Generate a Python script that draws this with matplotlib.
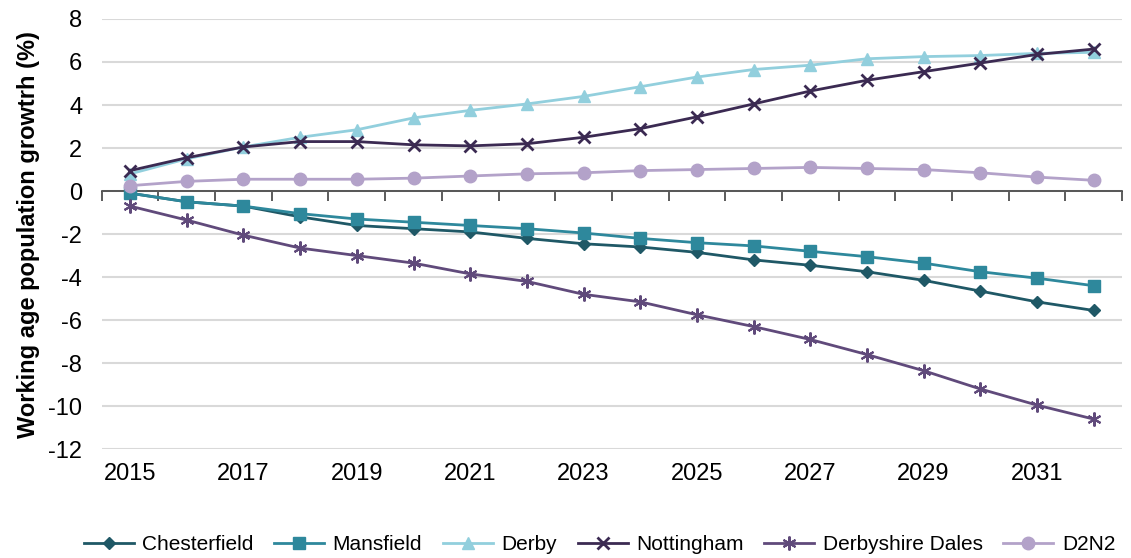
import matplotlib.pyplot as plt
import numpy as np

plt.rcParams['font.family'] = ['Liberation Sans', 'DejaVu Sans']
plt.rcParams['axes.unicode_minus'] = False

years = list(range(2015, 2033))

chesterfield = [-0.1, -0.5, -0.7, -1.2, -1.6, -1.75, -1.9, -2.2, -2.45, -2.6,
                -2.85, -3.2, -3.45, -3.75, -4.15, -4.65, -5.15, -5.55]
mansfield = [-0.1, -0.5, -0.7, -1.05, -1.3, -1.45, -1.6, -1.75, -1.95, -2.2,
             -2.4, -2.55, -2.8, -3.05, -3.35, -3.75, -4.05, -4.4]
derby = [0.8, 1.5, 2.05, 2.5, 2.85, 3.4, 3.75, 4.05, 4.4, 4.85,
         5.3, 5.65, 5.85, 6.15, 6.25, 6.3, 6.4, 6.45]
nottingham = [0.95, 1.55, 2.05, 2.3, 2.3, 2.15, 2.1, 2.2, 2.5, 2.9,
              3.45, 4.05, 4.65, 5.15, 5.55, 5.95, 6.35, 6.6]
derbyshire_dales = [-0.7, -1.35, -2.05, -2.65, -3.0, -3.35, -3.85, -4.2, -4.8, -5.15,
                    -5.75, -6.3, -6.9, -7.6, -8.35, -9.2, -9.95, -10.6]
d2n2 = [0.25, 0.45, 0.55, 0.55, 0.55, 0.6, 0.7, 0.8, 0.85, 0.95,
        1.0, 1.05, 1.1, 1.05, 1.0, 0.85, 0.65, 0.5]

series = [
    ('Chesterfield', chesterfield, '#1f5866', 'D', 6, 1),
    ('Mansfield', mansfield, '#2e889c', 's', 8, 1),
    ('Derby', derby, '#92cfdd', '^', 8, 1),
    ('Nottingham', nottingham, '#3b2a52', 'x', 9, 2),
    ('Derbyshire Dales', derbyshire_dales, '#604a7b', (6, 2, 0), 10, 1.5),
    ('D2N2', d2n2, '#b3a2c9', 'o', 9, 1),
]

fig = plt.figure(figsize=(11.31, 5.58), dpi=100)
ax = fig.add_axes([0.090, 0.195, 0.902, 0.771])

x = np.arange(len(years))
for name, vals, col, mk, ms, mew in series:
    ax.plot(x, vals, color=col, lw=2, marker=mk, markersize=ms,
            markeredgewidth=mew, markeredgecolor=col, markerfacecolor=col,
            label=name, zorder=3)

ax.set_xlim(-0.5, len(years) - 0.5)
ax.set_ylim(-12, 8)
ax.set_yticks(np.arange(-12, 9, 2))
ax.yaxis.grid(True, color='#d9d9d9', lw=1.5, zorder=0)
ax.tick_params(axis='y', length=0, labelsize=17, pad=14)

for s in ['left', 'right', 'top']:
    ax.spines[s].set_visible(False)
ax.spines['bottom'].set_position(('data', 0))
ax.spines['bottom'].set_color('#404040')
ax.spines['bottom'].set_linewidth(1.2)
ax.spines['bottom'].set_zorder(2)
ax.set_xticks(np.arange(-0.5, len(years), 1))
ax.set_xticklabels([])
ax.tick_params(axis='x', direction='out', length=7, width=1.2, color='#404040')

sec = ax.secondary_xaxis(0.0)
sec.set_xticks(x[::2])
sec.set_xticklabels([str(y) for y in years[::2]])
sec.tick_params(length=0, labelsize=17, pad=10)
sec.spines['bottom'].set_visible(False)

ax.set_ylabel('Working age population growtrh (%)', fontsize=17,
              fontweight='bold', labelpad=6)

fig.legend(loc='center', bbox_to_anchor=(0.530, 0.024), ncol=6,
           frameon=False, fontsize=15, handlelength=2.4, columnspacing=1.0,
           handletextpad=0.4)

fig.savefig('out.png', dpi=100)
